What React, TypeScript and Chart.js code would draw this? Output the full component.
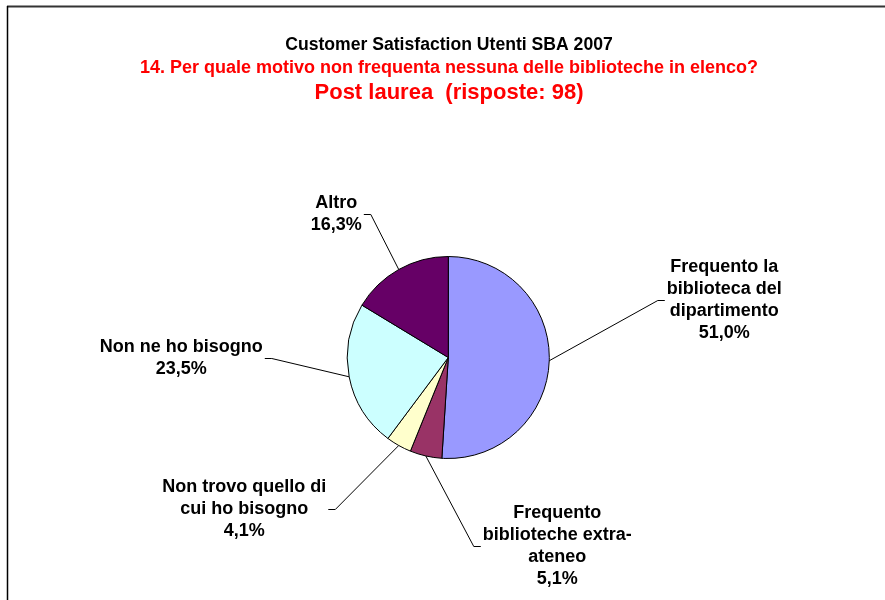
import React, { useEffect, useRef } from "react";
import { Chart, registerables } from "chart.js";

Chart.register(...registerables);

const TITLE = "Customer Satisfaction Utenti SBA 2007";
const SUBTITLE = "14. Per quale motivo non frequenta nessuna delle biblioteche in elenco?";
const SUBTITLE2 = "Post laurea  (risposte: 98)";

const categories = [
  "Frequento la\nbiblioteca del\ndipartimento",
  "Frequento\nbiblioteche extra-\nateneo",
  "Non trovo quello di\ncui ho bisogno",
  "Non ne ho bisogno",
  "Altro",
];
const responses = [50, 5, 4, 23, 16];
const colors = ["#9999FF", "#993366", "#FFFFCC", "#CCFFFF", "#660066"];

// label block centres, relative to pie centre (layout only)
const labelOffsets = [
  [276, -57],
  [109, 189],
  [-204, 152],
  [-267, 1],
  [-112, -143],
];

const FONT = "'Liberation Sans', Arial, sans-serif";

const textPlugin = {
  id: "textPlugin",
  afterDraw(chart: any) {
    const ctx = chart.ctx as CanvasRenderingContext2D;
    ctx.save();
    // frame
    ctx.strokeStyle = "#333333";
    ctx.lineWidth = 2;
    ctx.beginPath();
    ctx.moveTo(7, 6.5);
    ctx.lineTo(885, 6.5);
    ctx.stroke();
    ctx.strokeStyle = "#000000";
    ctx.lineWidth = 1.5;
    ctx.beginPath();
    ctx.moveTo(7.5, 6);
    ctx.lineTo(7.5, 600);
    ctx.stroke();

    // titles
    ctx.textAlign = "center";
    ctx.textBaseline = "alphabetic";
    ctx.fillStyle = "#000000";
    ctx.font = `bold 17.6px ${FONT}`;
    ctx.fillText(TITLE, 449, 50);
    ctx.fillStyle = "#FF0000";
    ctx.font = `bold 18px ${FONT}`;
    ctx.fillText(SUBTITLE, 449, 72.5);
    ctx.font = `bold 22px ${FONT}`;
    ctx.fillText(SUBTITLE2, 449, 99);

    // labels
    const meta = chart.getDatasetMeta(0);
    const data = chart.data.datasets[0].data as number[];
    const total = data.reduce((a, b) => a + b, 0);
    ctx.font = `bold 18px ${FONT}`;
    ctx.fillStyle = "#000000";
    ctx.strokeStyle = "#000000";
    ctx.lineWidth = 1;
    meta.data.forEach((arc: any, i: number) => {
      const p = arc.getProps(["x", "y", "startAngle", "endAngle", "outerRadius"], true);
      const mid = (p.startAngle + p.endAngle) / 2;
      const ex = p.x + Math.cos(mid) * p.outerRadius;
      const ey = p.y + Math.sin(mid) * p.outerRadius;
      const pct = ((data[i] / total) * 100).toFixed(1).replace(".", ",") + "%";
      const lines = String(chart.data.labels[i]).split("\n").concat([pct]);
      const cx = p.x + labelOffsets[i][0];
      const cy = p.y + labelOffsets[i][1];
      const w = Math.max(...lines.map((l) => ctx.measureText(l).width));
      const right = cx > p.x;
      const edge = right ? cx - w / 2 - 2 : cx + w / 2 + 2;
      const elbow = right ? edge - 7 : edge + 7;
      ctx.beginPath();
      ctx.moveTo(ex, ey);
      ctx.lineTo(elbow, cy);
      ctx.lineTo(edge, cy);
      ctx.stroke();
      ctx.textAlign = "center";
      ctx.textBaseline = "middle";
      lines.forEach((l, k) => {
        ctx.fillText(l, cx, cy + (k - (lines.length - 1) / 2) * 22);
      });
    });
    ctx.restore();
  },
};

export default function App() {
  const ref = useRef<HTMLCanvasElement | null>(null);
  useEffect(() => {
    if (!ref.current) return;
    const cx = 448.3;
    const cy = 357.5;
    const side = 203;
    const chart = new Chart(ref.current, {
      type: "pie",
      data: {
        labels: categories,
        datasets: [
          {
            data: responses,
            backgroundColor: colors,
            borderColor: "#000000",
            borderWidth: 1,
          },
        ],
      },
      options: {
        animation: false,
        responsive: false,
        events: [],
        layout: {
          padding: {
            left: cx - side / 2,
            right: 885 - (cx + side / 2),
            top: cy - side / 2,
            bottom: 600 - (cy + side / 2),
          },
        },
        plugins: {
          legend: { display: false },
          tooltip: { enabled: false },
          title: { display: false },
        },
      },
      plugins: [textPlugin],
    });
    return () => chart.destroy();
  }, []);
  return (
    <div style={{ position: "fixed", left: 0, top: 0, width: 885, height: 600, background: "#ffffff" }}>
      <canvas ref={ref} width={885} height={600} style={{ width: 885, height: 600, display: "block" }} />
    </div>
  );
}
